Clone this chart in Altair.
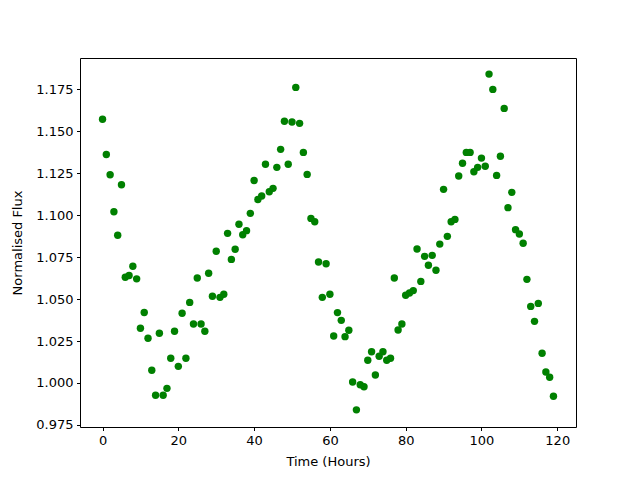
import altair as alt
import pandas as pd

time_hours = list(range(120))
flux = [1.157, 1.136, 1.124, 1.102, 1.088, 1.118, 1.063, 1.064, 1.0695, 1.062, 1.0326, 1.042,
        1.0266, 1.0076, 0.9927, 1.0296, 0.9927, 0.9968, 1.0147, 1.0308, 1.0099, 1.0415, 1.0147,
        1.048, 1.0351, 1.0625, 1.0351, 1.0308, 1.0653, 1.0516, 1.0784, 1.051, 1.0528, 1.0891,
        1.0736, 1.0796, 1.0945, 1.0883, 1.0907, 1.101, 1.1206, 1.1093, 1.1113, 1.1302, 1.1139,
        1.1159, 1.1284, 1.1391, 1.1558, 1.1302, 1.1554, 1.176, 1.1546, 1.1373, 1.1242, 1.098,
        1.096, 1.072, 1.051, 1.071, 1.0528, 1.028, 1.0419, 1.0373, 1.0276, 1.0314, 1.0006, 0.984,
        0.999, 0.9978, 1.0135, 1.0186, 1.0048, 1.0159, 1.0186, 1.0135, 1.0147, 1.0625, 1.0316,
        1.0351, 1.0522, 1.0536, 1.055, 1.0798, 1.0605, 1.0754, 1.0701, 1.076, 1.0671, 1.0827,
        1.1153, 1.0873, 1.096, 1.0974, 1.1232, 1.1308, 1.1373, 1.1373, 1.1258, 1.1284, 1.1339,
        1.129, 1.1839, 1.1748, 1.1236, 1.135, 1.1635, 1.1044, 1.1135, 1.0913, 1.0887, 1.0832,
        1.0617, 1.0456, 1.0367, 1.0474, 1.0177, 1.0065, 1.0034, 0.9921]

x_ticks = [0, 20, 40, 60, 80, 100, 120]
y_ticks = [0.975, 1.000, 1.025, 1.050, 1.075, 1.100, 1.125, 1.150, 1.175]

df = pd.DataFrame({"t": time_hours, "f": flux})

FONT = "DejaVu Sans"

chart = alt.Chart(df).mark_circle(color="#008000", opacity=1, size=55).encode(
    x=alt.X("t:Q", title="Time (Hours)",
            scale=alt.Scale(domain=[-5.95, 124.95], nice=False, zero=False),
            axis=alt.Axis(values=x_ticks, format="d", grid=False, domain=False,
                          tickColor="black", tickSize=3.5, labelPadding=3.5,
                          labelFont=FONT, labelFontSize=13, labelColor="black",
                          titleFont=FONT, titleFontSize=13, titleFontWeight="normal",
                          titleColor="black", titlePadding=8)),
    y=alt.Y("f:Q", title="Normalised Flux",
            scale=alt.Scale(domain=[0.9738, 1.1935], nice=False, zero=False),
            axis=alt.Axis(values=y_ticks, format=".3f", grid=False, domain=False,
                          tickColor="black", tickSize=3.5, labelPadding=3.5,
                          labelFont=FONT, labelFontSize=13, labelColor="black",
                          titleFont=FONT, titleFontSize=13, titleFontWeight="normal",
                          titleColor="black", titlePadding=11)),
).properties(
    width=496, height=369,
    autosize=alt.AutoSizeParams(type="none"),
    padding={"left": 72, "top": 50, "right": 56, "bottom": 45},
).configure_view(stroke="black", strokeWidth=1)

chart.save("out.html", embed_options={"renderer": "svg", "actions": False})
